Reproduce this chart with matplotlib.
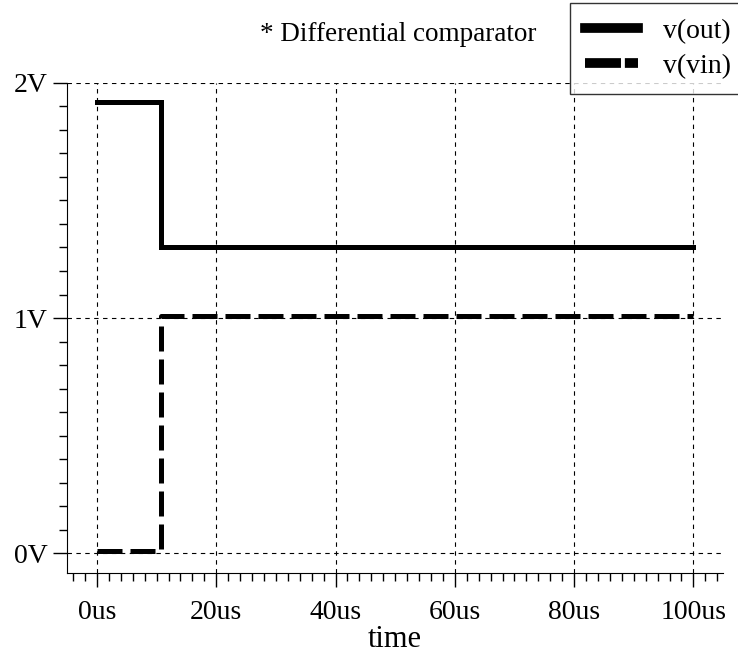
import matplotlib.pyplot as plt
from matplotlib.ticker import MultipleLocator, FuncFormatter
from matplotlib import rcParams
rcParams['font.family'] = 'Liberation Serif'

# time in us, voltage in V
t_out = [0, 10.8, 10.8, 100]
v_out = [1.92, 1.92, 1.30, 1.30]
t_vin = [0, 10.8, 10.8, 100]
v_vin = [0.01, 0.01, 1.01, 1.01]
xticks = [0, 20, 40, 60, 80, 100]
yticks = [0, 1, 2]

fig = plt.figure(figsize=(7.38, 6.58), dpi=100)
ax = fig.add_axes([0.091, 0.129, 0.889, 0.745])

ax.plot(t_out, v_out, color='black', lw=3.6, solid_joinstyle='miter', label='v(out)')
ax.plot(t_vin, v_vin, color='black', lw=3.6, dashes=(5, 1.6), label='v(vin)')

ax.set_xlim(-5, 105)
ax.set_ylim(-0.085, 2.0)
ax.set_xticks(xticks)
ax.set_yticks(yticks)
ax.xaxis.set_minor_locator(MultipleLocator(2))
ax.yaxis.set_minor_locator(MultipleLocator(0.1))
ax.xaxis.set_major_formatter(FuncFormatter(lambda v, p: '%dus' % v))
ax.yaxis.set_major_formatter(FuncFormatter(lambda v, p: '%dV' % v))
ax.tick_params(which='major', length=10, width=1, labelsize=20, direction='out')
ax.tick_params(which='minor', length=6, width=1, direction='out')
ax.tick_params(axis='x', pad=9)
ax.tick_params(axis='y', pad=4)

ax.grid(True, which='major', color='black', linestyle=(0, (4, 4)), linewidth=0.8)
for s in ['top', 'right']:
    ax.spines[s].set_visible(False)

ax.set_xlabel('time', fontsize=22, labelpad=0)
fig.text(0.539, 0.947, '* Differential comparator', fontsize=19.5, ha='center', va='center')

leg = fig.legend(loc='upper left', bbox_to_anchor=(570 / 738, 1 - 3 / 658), fontsize=20,
                 frameon=True, fancybox=False, edgecolor='black', handlelength=1.9,
                 borderpad=0.55, labelspacing=0.35, handletextpad=0.9, borderaxespad=0)
leg.get_frame().set_linewidth(1)
for h in leg.get_lines():
    h.set_linewidth(7)
leg.get_lines()[1].set_dashes((3.7, 0.4, 1.4, 5))

plt.savefig('out.png')
